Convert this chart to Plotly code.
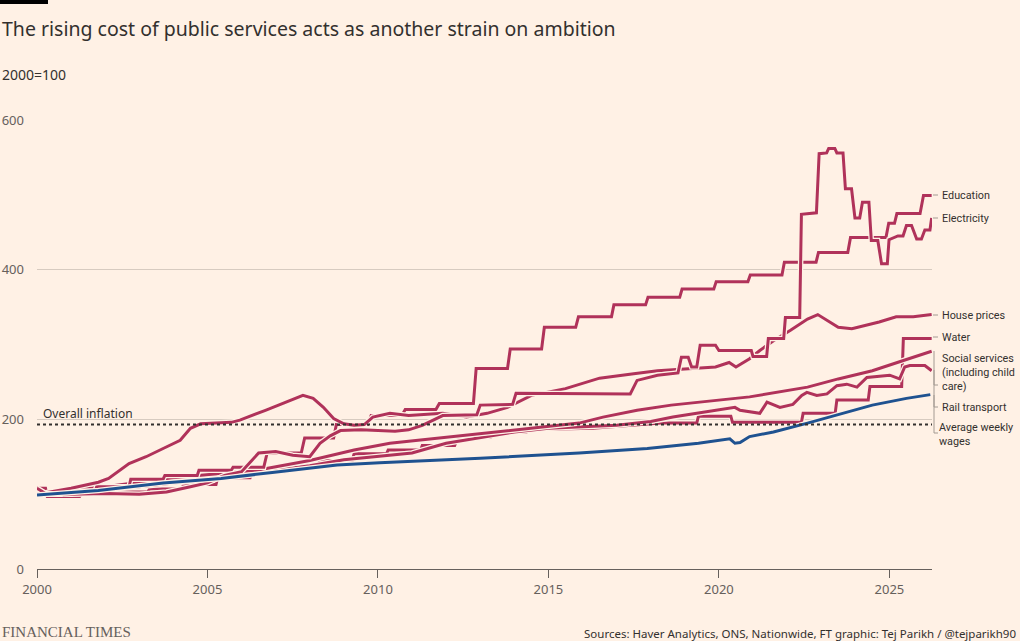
import plotly.graph_objects as go

# ---------------- data ----------------
education_x = [2000.0, 2000.7, 2000.75, 2001.7, 2001.75, 2002.7, 2002.75, 2003.7, 2003.75, 2004.7, 2004.75,
               2005.7, 2005.75, 2006.65, 2006.75, 2007.75, 2007.85, 2008.7, 2008.78, 2009.7, 2009.8,
               2010.7, 2010.8, 2011.7, 2011.8, 2012.8, 2012.88, 2013.8, 2013.88, 2014.8, 2014.88,
               2015.8, 2015.88, 2016.85, 2016.92, 2017.85, 2017.92, 2018.85, 2018.92, 2019.85, 2019.92,
               2020.85, 2020.92, 2021.85, 2021.92, 2022.85, 2022.92, 2023.78, 2023.86, 2024.9, 2024.98,
               2025.15, 2025.22, 2025.9, 2026.0, 2026.24]
education_y = [100, 100, 104, 104, 110, 110, 120, 120, 125, 125, 132,
               132, 136, 136, 155, 155, 175, 175, 193, 193, 205,
               205, 213, 213, 221, 221, 268, 268, 294, 294, 323,
               323, 337, 337, 353, 353, 363, 363, 374, 374, 384,
               384, 393, 393, 410, 410, 423, 423, 443, 443, 462,
               462, 475, 475, 499, 499]

electricity_x = [2000.0, 2000.25, 2001.0, 2002.0, 2003.0, 2003.8, 2004.5, 2005.0, 2005.5, 2006.0, 2006.3,
                 2006.5, 2007.0, 2007.5, 2008.0, 2008.3, 2008.6, 2008.9, 2009.5, 2010.5, 2010.9, 2011.3,
                 2011.9, 2012.9, 2013.0, 2013.95, 2014.05, 2017.4, 2017.6, 2018.2, 2018.8, 2018.9, 2019.1,
                 2019.2, 2019.35, 2019.45, 2019.9, 2020.0, 2020.95, 2021.0, 2021.4, 2021.45, 2021.9, 2021.95,
                 2022.37, 2022.42, 2022.86, 2022.94, 2023.16, 2023.22, 2023.4, 2023.46, 2023.64, 2023.71,
                 2023.89, 2023.99, 2024.13, 2024.21, 2024.4, 2024.47, 2024.66, 2024.77, 2024.94, 2024.99,
                 2025.25, 2025.4, 2025.5, 2025.65, 2025.8, 2025.94, 2026.04, 2026.19, 2026.24]
electricity_y = [108, 101, 100, 101, 100, 103, 110, 115, 125, 130, 145,
                 155, 157, 152, 150, 168, 178, 185, 186, 184, 186, 192,
                 205, 206, 219, 220, 235, 234, 252, 259, 262, 283, 283,
                 270, 270, 299, 299, 292, 292, 284, 284, 308, 308, 336,
                 336, 474, 476, 555, 556, 562, 562, 556, 556, 508,
                 508, 469, 469, 490, 490, 439, 439, 408, 408, 440,
                 445, 445, 459, 459, 441, 441, 453, 453, 469]

house_x = [2000.0, 2000.7, 2001.0, 2001.8, 2002.1, 2002.7, 2003.2, 2003.7, 2004.2, 2004.5, 2004.8, 2005.7,
           2005.95, 2006.7, 2007.3, 2007.8, 2008.1, 2008.4, 2008.7, 2009.0, 2009.3, 2009.6, 2009.85,
           2010.35, 2010.9, 2011.9, 2012.6, 2013.2, 2013.8, 2014.5, 2015.5, 2016.5, 2017.5, 2018.2,
           2019.9, 2020.3, 2020.5, 2020.9, 2021.2, 2021.6, 2022.1, 2022.6, 2022.9, 2023.2, 2023.5,
           2023.9, 2024.2, 2024.7, 2025.2, 2025.7, 2026.24]
house_y = [100, 105, 108, 116, 121, 141, 150, 161, 172, 188, 194, 196,
           199, 212, 223, 232, 228, 216, 201, 194, 192, 193, 203,
           208, 205, 208, 203, 208, 216, 232, 241, 255, 261, 265,
           270, 276, 270, 281, 292, 305, 319, 334, 340, 332, 323,
           321, 324, 330, 337, 337, 340]

water_x = [2000.0, 2000.25, 2000.3, 2001.25, 2001.3, 2002.25, 2002.3, 2003.25, 2003.3, 2004.25, 2004.3,
           2005.25, 2005.3, 2006.25, 2006.3, 2007.25, 2007.3, 2008.25, 2008.3, 2009.25, 2009.3, 2010.25,
           2010.3, 2011.25, 2011.3, 2012.25, 2012.35, 2013.3, 2013.4, 2014.35, 2014.4, 2015.3, 2016.3,
           2017.3, 2018.3, 2019.35, 2019.4, 2020.35, 2020.4, 2022.42, 2022.47, 2023.41, 2023.46,
           2024.38, 2024.43, 2025.36, 2025.41, 2026.24]
water_y = [108, 108, 97, 97, 100, 100, 103, 103, 107, 107, 113,
           113, 122, 122, 130, 130, 138, 138, 145, 145, 154, 154,
           159, 159, 165, 165, 176, 176, 183, 183, 188, 187, 188,
           191, 195, 195, 204, 204, 196, 196, 208, 208, 226,
           226, 244, 244, 308, 308]

social_x = [2000.0, 2002.0, 2004.0, 2006.45, 2008.0, 2009.3, 2010.35, 2012.0, 2013.0, 2014.45, 2015.9,
            2016.6, 2017.6, 2018.6, 2019.5, 2020.5, 2020.9, 2022.6, 2023.5, 2024.5, 2025.0, 2025.5, 2026.24]
social_y = [100, 110, 122, 132, 145, 159, 168, 176, 181, 188, 195,
            203, 212, 219, 223, 228, 230, 243, 254, 265, 272, 280, 291]

rail_x = [2000.0, 2001.0, 2002.0, 2003.0, 2004.0, 2005.0, 2006.0, 2007.0, 2008.0, 2009.0, 2010.0,
          2011.0, 2012.0, 2013.0, 2014.0, 2015.0, 2016.0, 2017.0, 2018.0, 2018.65, 2019.35, 2020.3,
          2020.47, 2020.62, 2020.9, 2021.2, 2021.41, 2021.79, 2022.17, 2022.43, 2022.58, 2022.87,
          2023.17, 2023.46, 2023.75, 2024.05, 2024.34, 2025.01, 2025.3, 2025.45, 2025.6, 2026.04, 2026.24]
rail_y = [100, 103, 107, 110, 115, 120, 125, 132, 138, 146, 150,
          155, 168, 176, 183, 188, 190, 192, 197, 203, 208, 215,
          216, 212, 210, 208, 223, 216, 220, 232, 236, 232,
          234, 245, 247, 243, 256, 259, 254, 270, 272, 272, 265]

wages_x = [2000.0, 2001.8, 2003.7, 2005.4, 2006.9, 2008.8, 2010.05, 2013.0, 2015.9, 2017.9, 2019.4,
           2020.32, 2020.47, 2020.62, 2020.9, 2021.6, 2022.6, 2023.6, 2024.5, 2025.5, 2026.2]
wages_y = [99, 105, 115, 121, 129, 139, 142, 148, 155, 161, 168,
           174, 168, 169, 177, 183, 195, 208, 219, 228, 233]

overall_inflation = 193

labels = ["Education", "Electricity", "House prices", "Water",
          "Social services<br>(including child<br>care)", "Rail transport", "Average weekly<br>wages"]

# ---------------- styling ----------------
BG = "#fff1e5"
RED = "#b0325a"
BLUE = "#1f5290"
TXT = "#33302e"
GREY = "#66605c"
GRID = "#d7cbc0"

W, H = 1020, 641
L, R, T, B = 37, 88, 120, 72
PW, PH = W - L - R, H - T - B
XMAX = 2026.25


def px(x):
    return (x - L) / PW


def py(y):
    return (H - B - y) / PH


fig = go.Figure()

series = [
    (water_x, water_y, RED),
    (rail_x, rail_y, RED),
    (social_x, social_y, RED),
    (education_x, education_y, RED),
    (house_x, house_y, RED),
    (electricity_x, electricity_y, RED),
    (wages_x, wages_y, BLUE),
]

for xs, ys, col in series:
    fig.add_trace(go.Scatter(x=xs, y=ys, mode="lines", line=dict(color=BG, width=5.5),
                             hoverinfo="skip", showlegend=False))
    fig.add_trace(go.Scatter(x=xs, y=ys, mode="lines", line=dict(color=col, width=3),
                             showlegend=False))

fig.add_trace(go.Scatter(x=[2000, XMAX], y=[overall_inflation, overall_inflation], mode="lines",
                         line=dict(color=TXT, width=2, dash="dot"), showlegend=False))

# ---------------- labels at line ends ----------------
label_px = [940, 940, 940, 940, 940, 940, 937]
label_py = [195, 218, 315, 337, 372, 407, 434]
ann = []
for text, xpx, ypx in zip(labels, label_px, label_py):
    ann.append(dict(x=px(xpx), y=py(ypx), xref="paper", yref="paper", text=text, showarrow=False,
                    xanchor="left", yanchor="middle", align="left",
                    font=dict(family="Roboto", size=10.8, color=TXT)))

ann += [
    dict(x=px(0), y=py(28), xref="paper", yref="paper", xanchor="left", yanchor="middle",
         text="The rising cost of public services acts as another strain on ambition", showarrow=False,
         font=dict(family="Noto Sans", size=19.5, color=TXT)),
    dict(x=px(0), y=py(74), xref="paper", yref="paper", xanchor="left", yanchor="middle",
         text="2000=100", showarrow=False, font=dict(family="Noto Sans", size=14, color=TXT)),
    dict(x=px(41), y=py(413), xref="paper", yref="paper", xanchor="left", yanchor="middle",
         text="Overall inflation", showarrow=False, font=dict(family="Noto Sans", size=12, color=TXT)),
    dict(x=px(1018), y=py(633), xref="paper", yref="paper", xanchor="right", yanchor="middle",
         text="Sources: Haver Analytics, ONS, Nationwide, FT graphic: Tej Parikh / @tejparikh90",
         showarrow=False, font=dict(family="Noto Sans", size=11.5, color=TXT)),
    dict(x=px(0), y=py(632), xref="paper", yref="paper", xanchor="left", yanchor="middle",
         text="FINANCIAL TIMES", showarrow=False,
         font=dict(family="Liberation Serif", size=15, color=GREY)),
]

shapes = [
    dict(type="rect", xref="paper", yref="paper", x0=px(0), x1=px(48), y0=py(0), y1=py(4),
         fillcolor="#000000", line=dict(width=0)),
]
leader = "#a39a92"
for y0, y1 in [(195, 195), (218, 218), (315, 315), (337, 337)]:
    shapes.append(dict(type="line", xref="paper", yref="paper", x0=px(933), x1=px(938),
                       y0=py(y0), y1=py(y1), line=dict(color=leader, width=1)))
for y0, y1 in [(351, 385), (370, 407), (395, 433)]:
    shapes.append(dict(type="line", xref="paper", yref="paper", x0=px(934), x1=px(934),
                       y0=py(y0), y1=py(y1), line=dict(color=leader, width=1)))
    shapes.append(dict(type="line", xref="paper", yref="paper", x0=px(934), x1=px(938),
                       y0=py(y1), y1=py(y1), line=dict(color=leader, width=1)))

fig.update_layout(
    width=W, height=H, margin=dict(l=L, r=R, t=T, b=B, pad=0),
    paper_bgcolor=BG, plot_bgcolor=BG,
    annotations=ann, shapes=shapes, showlegend=False,
    font=dict(family="Noto Sans", color=GREY),
    xaxis=dict(range=[2000, XMAX], tickvals=[2000, 2005, 2010, 2015, 2020, 2025],
               ticks="outside", ticklen=8, tickcolor=GREY, tickwidth=1, automargin=False,
               showline=True, linecolor=GREY, linewidth=1, showgrid=False, zeroline=False,
               tickfont=dict(size=13, color=GREY)),
    yaxis=dict(range=[0, 600], tickvals=[0, 200, 400, 600], showgrid=True, gridcolor=GRID,
               gridwidth=1, zeroline=False, showline=False, ticks="", ticklabelstandoff=12,
               automargin=False, tickfont=dict(size=13, color=GREY)),
)

fig.write_html("out.html", config={"displayModeBar": False},
               post_script="document.body.style.margin='0';document.body.style.overflow='hidden';")
